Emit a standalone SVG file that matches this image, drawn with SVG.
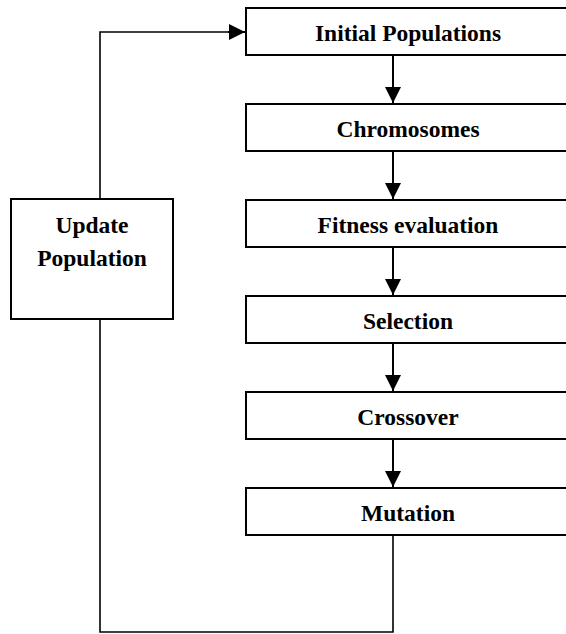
<svg xmlns="http://www.w3.org/2000/svg" width="566" height="634" viewBox="0 0 566 634">
<style>
.box{fill:#fff;stroke:#000;stroke-width:2}
.lbl{font-family:"Liberation Serif","Times New Roman",serif;font-weight:bold;font-size:23.5px;fill:#000;text-anchor:middle}
.arr{fill:none;stroke:#000;stroke-width:2;marker-end:url(#ah)}
.loop{fill:none;stroke:#000;stroke-width:1.6}
</style>
<defs>
<marker id="ah" viewBox="0 0 16 16" refX="16" refY="8" markerWidth="16" markerHeight="16" markerUnits="userSpaceOnUse" orient="auto">
<path d="M0,0 L16,8 L0,16 z" fill="#000"/>
</marker>
</defs>
<rect width="566" height="634" fill="#fff"/>
<g id="connectors">
<line class="arr" x1="393" y1="55" x2="393" y2="103"/>
<line class="arr" x1="393" y1="151" x2="393" y2="199"/>
<line class="arr" x1="393" y1="247" x2="393" y2="295"/>
<line class="arr" x1="393" y1="343" x2="393" y2="391"/>
<line class="arr" x1="393" y1="439" x2="393" y2="487"/>
<polyline class="loop" points="393,535 393,632 100,632 100,319"/>
<polyline class="loop" points="100,199 100,32 230,32"/>
<line class="arr" x1="228" y1="32" x2="245" y2="32"/>
</g>
<g id="initial">
<rect class="box" x="246" y="8" width="330" height="47"/>
<text class="lbl" x="408" y="41">Initial Populations</text>
</g>
<g id="chromosomes">
<rect class="box" x="246" y="104" width="330" height="47"/>
<text class="lbl" x="408" y="137">Chromosomes</text>
</g>
<g id="fitness">
<rect class="box" x="246" y="200" width="330" height="47"/>
<text class="lbl" x="408" y="233">Fitness evaluation</text>
</g>
<g id="selection">
<rect class="box" x="246" y="296" width="330" height="47"/>
<text class="lbl" x="408" y="329">Selection</text>
</g>
<g id="crossover">
<rect class="box" x="246" y="392" width="330" height="47"/>
<text class="lbl" x="408" y="425">Crossover</text>
</g>
<g id="mutation">
<rect class="box" x="246" y="488" width="330" height="47"/>
<text class="lbl" x="408" y="521">Mutation</text>
</g>
<g id="update">
<rect class="box" x="11" y="199" width="162" height="120"/>
<text class="lbl" x="92" y="233">Update</text>
<text class="lbl" x="92" y="266">Population</text>
</g>
</svg>
